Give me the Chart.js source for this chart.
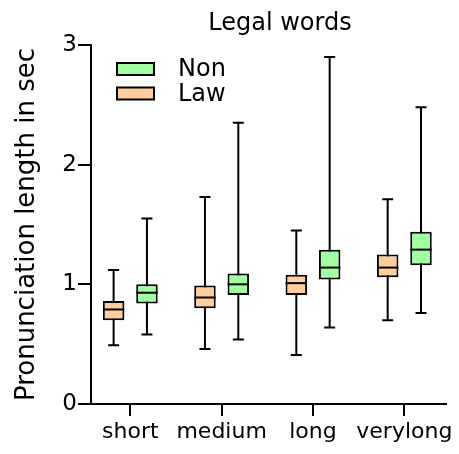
<!DOCTYPE html>
<html>
<head>
<meta charset="utf-8">
<script src="https://cdn.jsdelivr.net/npm/chart.js@4"></script>
<style>
  html, body { margin: 0; padding: 0; background: #fff; }
</style>
</head>
<body>
<canvas id="lengthChart" width="459" height="454"></canvas>
<script>
const categories = ['short', 'medium', 'long', 'verylong'];
const yTicks = [0, 1, 2, 3];

// five-number summaries, pronunciation length in seconds
const lawMin = [0.49, 0.46, 0.41, 0.70];
const lawQ1 = [0.70, 0.80, 0.91, 1.06];
const lawMed = [0.79, 0.89, 1.01, 1.14];
const lawQ3 = [0.86, 0.99, 1.08, 1.25];
const lawMax = [1.12, 1.73, 1.45, 1.71];

const nonMin = [0.58, 0.54, 0.64, 0.76];
const nonQ1 = [0.84, 0.91, 1.04, 1.16];
const nonMed = [0.93, 1.00, 1.14, 1.29];
const nonQ3 = [1.00, 1.09, 1.29, 1.44];
const nonMax = [1.55, 2.35, 2.90, 2.48];

const FONT = 'DejaVu Sans';

function boxData(q1, q3) {
  return categories.map((c, i) => ({ x: i, y: [q1[i], q3[i]] }));
}

// whiskers go under the boxes, medians on top
const boxPlot = {
  id: 'boxPlot',
  beforeDatasetsDraw(chart) {
    const ctx = chart.ctx;
    const y = chart.scales.y;
    ctx.save();
    ctx.strokeStyle = '#000';
    ctx.lineWidth = 2;
    chart.data.datasets.forEach((ds, d) => {
      chart.getDatasetMeta(d).data.forEach((bar, i) => {
        const top = y.getPixelForValue(ds.whiskerMax[i]);
        const bottom = y.getPixelForValue(ds.whiskerMin[i]);
        const cap = 5.5;
        ctx.beginPath();
        ctx.moveTo(bar.x, top);
        ctx.lineTo(bar.x, bottom);
        ctx.moveTo(bar.x - cap, top);
        ctx.lineTo(bar.x + cap, top);
        ctx.moveTo(bar.x - cap, bottom);
        ctx.lineTo(bar.x + cap, bottom);
        ctx.stroke();
      });
    });
    ctx.restore();
  },
  afterDatasetsDraw(chart) {
    const ctx = chart.ctx;
    const y = chart.scales.y;
    ctx.save();
    ctx.strokeStyle = '#000';
    ctx.lineWidth = 2;
    chart.data.datasets.forEach((ds, d) => {
      chart.getDatasetMeta(d).data.forEach((bar, i) => {
        const py = y.getPixelForValue(ds.median[i]);
        ctx.beginPath();
        ctx.moveTo(bar.x - bar.width / 2, py);
        ctx.lineTo(bar.x + bar.width / 2, py);
        ctx.stroke();
      });
    });
    ctx.restore();
  },
  afterDraw(chart) {
    const ctx = chart.ctx;
    ctx.save();
    ctx.fillStyle = '#000';
    ctx.font = '24px "' + FONT + '"';
    ctx.textAlign = 'center';
    ctx.textBaseline = 'alphabetic';
    ctx.fillText('Legal words', 280, 29.5);

    // legend, Non listed first
    ctx.font = '24px "' + FONT + '"';
    ctx.textAlign = 'left';
    ctx.textBaseline = 'middle';
    const items = chart.data.datasets.slice().reverse();
    items.forEach((ds, k) => {
      const top = 63 + k * 24.5;
      ctx.fillStyle = ds.backgroundColor;
      ctx.fillRect(117, top, 37, 12);
      ctx.strokeStyle = '#000';
      ctx.lineWidth = 2;
      ctx.strokeRect(117, top, 37, 12);
      ctx.fillStyle = '#000';
      ctx.fillText(ds.label, 178, top + 7);
    });
    ctx.restore();
  }
};

new Chart(document.getElementById('lengthChart'), {
  type: 'bar',
  data: {
    datasets: [{
      label: 'Law',
      data: boxData(lawQ1, lawQ3),
      whiskerMin: lawMin,
      median: lawMed,
      whiskerMax: lawMax,
      backgroundColor: '#ffcc9c',
      borderColor: '#000',
      borderWidth: 2,
      borderSkipped: false
    }, {
      label: 'Non',
      data: boxData(nonQ1, nonQ3),
      whiskerMin: nonMin,
      median: nonMed,
      whiskerMax: nonMax,
      backgroundColor: '#a0ffa0',
      borderColor: '#000',
      borderWidth: 2,
      borderSkipped: false
    }]
  },
  options: {
    responsive: false,
    animation: false,
    categoryPercentage: 0.73,
    barPercentage: 0.645,
    layout: { padding: { top: 45, right: 13, left: 0, bottom: 0 } },
    plugins: {
      legend: { display: false },
      tooltip: { enabled: false }
    },
    scales: {
      x: {
        type: 'linear',
        offset: false,
        min: -0.43,
        max: 3.456,
        afterBuildTicks: s => { s.ticks = categories.map((c, i) => ({ value: i })); },
        afterFit: s => { s.height = 50; },
        grid: { offset: false, drawOnChartArea: false, tickLength: 12, color: '#000', lineWidth: 2 },
        border: { color: '#000', width: 2 },
        ticks: {
          callback: v => categories[v],
          color: '#000',
          font: { family: FONT, size: 22 },
          padding: 3,
          maxRotation: 0,
          autoSkip: false
        }
      },
      y: {
        min: 0,
        max: 3,
        afterBuildTicks: s => { s.ticks = yTicks.map(v => ({ value: v })); },
        afterFit: s => { s.width = 91; },
        grid: { drawOnChartArea: false, tickLength: 13, color: '#000', lineWidth: 2 },
        border: { color: '#000', width: 2 },
        ticks: {
          color: '#000',
          font: { family: FONT, size: 23 },
          padding: 1
        },
        title: {
          display: true,
          text: 'Pronunciation length in sec',
          color: '#000',
          font: { family: FONT, size: 26 },
          padding: { top: 12, bottom: 0 }
        }
      }
    }
  },
  plugins: [boxPlot]
});
</script>
</body>
</html>
